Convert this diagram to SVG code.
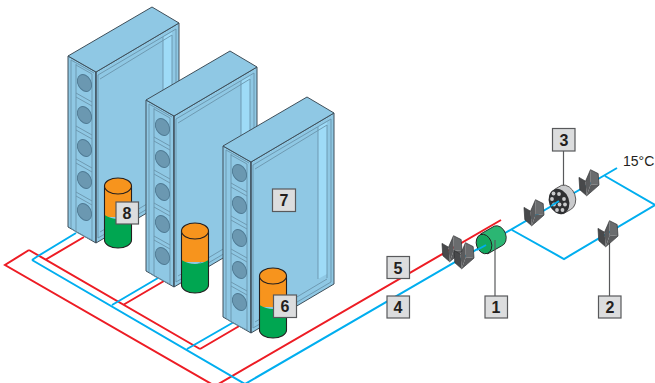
<svg xmlns="http://www.w3.org/2000/svg" xmlns:xlink="http://www.w3.org/1999/xlink" width="655" height="383" viewBox="0 0 655 383">
<style>
.red{fill:none;stroke:#ed1c24;stroke-width:2}
.blue{fill:none;stroke:#00aeef;stroke-width:2}
.leader{fill:none;stroke:#58595b;stroke-width:1.2}
.box{fill:#dcddde;stroke:#58595b;stroke-width:1.2}
.num{font:bold 16px "Liberation Sans",Arial,sans-serif;fill:#231f20;text-anchor:middle}
.r{fill:#8fc8e4;stroke:#3f4f5a;stroke-width:1;stroke-linejoin:round}
.rl{fill:none;stroke:#6a94ab;stroke-width:.9}
.rd{fill:none;stroke:#3f4f5a;stroke-width:1}
.hole{fill:#6b98b1;stroke:#4f7a93;stroke-width:.9}
.cs{stroke:#231f20;stroke-width:1.1}
.vd{fill:#48494b}.vm{fill:#5a5b5d}.vl{fill:#6a6c6e}.vo{fill:none;stroke:#2f3032;stroke-width:.6;stroke-linejoin:round}
</style>
<defs>
<g id="unit">
<path class="r" d="M0 0L28 16V187L0 171Z"/>
<path class="r" d="M28 16L111 -33V138L28 187Z"/>
<path class="r" d="M0 0L84 -49L111 -33L28 16Z"/>
<path d="M95 -19L104 -24V128L95 133Z" fill="#9edbf7"/>
<path class="rl" d="M30 19L108 -27V136L30 182ZM32 23L104 -21M32 176L104 133M95 -19V133M104 -21V132"/>
<path class="rl" d="M3 4V172M8 8V176L24 184V18L8 9M3 4L26 17M8 176L3 172"/>
<path class="rl" d="M8 37L24 46M8 41L24 50M8 70L24 79M8 74L24 83M8 103L24 112M8 107L24 116M8 136L24 145M8 140L24 149"/>
<g class="hole">
<ellipse cx="16.500" cy="27" rx="6.500" ry="9" transform="rotate(-28 16.500 27)"/>
<ellipse cx="16.500" cy="59" rx="6.500" ry="9" transform="rotate(-28 16.500 59)"/>
<ellipse cx="16.500" cy="92" rx="6.500" ry="9" transform="rotate(-28 16.500 92)"/>
<ellipse cx="16.500" cy="124" rx="6.500" ry="9" transform="rotate(-28 16.500 124)"/>
<ellipse cx="16.500" cy="156" rx="6.500" ry="9" transform="rotate(-28 16.500 156)"/>
</g>
<path class="rd" d="M28 16V187"/>
</g>
<g id="tank">
<path d="M-13.500 0V31H13.500V0Z" fill="#f7941d"/>
<path d="M-13.500 29Q0 37 13.500 29V54A13.500 8 0 0 1 -13.500 54Z" fill="#00a651"/>
<path class="cs" fill="none" d="M-13.500 0V54A13.500 8 0 0 0 13.500 54V0"/>
<ellipse class="cs" cx="0" cy="0" rx="13.500" ry="8" fill="#f7941d"/>
</g>
<g id="valve" transform="scale(1.15)">
<path class="vl" d="M1.300 -10.700L8 -7.300L8.700 2.700L1.500 2Z"/>
<path class="vm" d="M1.500 2L8.700 2.700L3 7.700L-2 12Z"/>
<path class="vm" d="M-3 -.7L1.300 -10.700L1.500 2L-2 12Z"/>
<path class="vd" d="M-8.700 -4L-3 -.7L-2 12L-8 6.700Z"/>
<path class="vo" d="M-8.700 -4L-3 -.7L1.300 -10.700L8 -7.300L8.700 2.700L3 7.700L-2 12L-8 6.700Z"/>
</g>
</defs>
<g id="connectors">
<path class="red" d="M45 260L84 237M123 305L164 281M200 349L241 325M29 250L200 349M29 250L5 265L215 386L501 220"/>
<path class="blue" d="M38 256L76 233M112 305L158 278M187 349L234 322M32 260L245 384L617 168M38 256L32 260M512 230L564 259L655 205L605 176"/>
<path class="leader" d="M563.500 151V188M609.500 240V296"/>
</g>
<g id="rack-1"><use href="#unit" xlink:href="#unit" x="68" y="56"/></g>
<g id="tank-1"><use href="#tank" xlink:href="#tank" x="118" y="186"/></g>
<g id="rack-2"><use href="#unit" xlink:href="#unit" x="146" y="100"/></g>
<g id="tank-2"><use href="#tank" xlink:href="#tank" x="195" y="231"/></g>
<g id="rack-3"><use href="#unit" xlink:href="#unit" x="223" y="146"/></g>
<g id="tank-3"><use href="#tank" xlink:href="#tank" x="273" y="276"/></g>
<g id="valve-1"><use href="#valve" xlink:href="#valve" x="452" y="248"/></g>
<g id="valve-2"><use href="#valve" xlink:href="#valve" x="464" y="255"/></g>
<g id="valve-3"><use href="#valve" xlink:href="#valve" x="534" y="212"/></g>
<g id="valve-4"><use href="#valve" xlink:href="#valve" x="589" y="182"/></g>
<g id="valve-5"><use href="#valve" xlink:href="#valve" x="608" y="233"/></g>
<g id="strainer">
<path d="M480.400 234.100L494.400 226.100A7.500 10 -20 0 1 501.600 245.900L487.600 253.900Z" fill="#2bb673" stroke="#231f20" stroke-width=".9"/>
<ellipse cx="484" cy="244" rx="7.500" ry="10" transform="rotate(-20 484 244)" fill="#13a85f" stroke="#231f20" stroke-width=".9"/>
<path class="blue" d="M477 250L486 245"/>
<path class="leader" d="M495 240V296"/>
</g>
<g id="filter">
<path d="M554.600 189.300L561.600 185.300A10 13 -20 0 1 570.400 209.700L563.400 213.700Z" fill="#c9cacc" stroke="#231f20" stroke-width=".7"/>
<ellipse cx="559" cy="201.500" rx="10" ry="13" transform="rotate(-20 559 201.500)" fill="#2f3032"/>
<g fill="#c9cacc"><circle cx="553.500" cy="193.500" r="1.900"/><circle cx="559" cy="194" r="1.900"/><circle cx="552" cy="199" r="1.900"/><circle cx="564" cy="199" r="1.900"/><circle cx="554" cy="204.500" r="1.900"/><circle cx="559.500" cy="204.500" r="1.900"/><circle cx="565" cy="204.500" r="1.900"/><circle cx="557" cy="210" r="1.900"/><circle cx="562.500" cy="210" r="1.900"/></g>
<path class="blue" d="M551 206L559 201"/>
</g>
<text x="623" y="166" font-family="Liberation Sans, Arial, sans-serif" font-size="14" fill="#231f20">15°C</text>
<g id="label-1"><rect class="box" x="485" y="296" width="22.500" height="22"/><text class="num" x="496" y="313">1</text></g>
<g id="label-2"><rect class="box" x="598.500" y="296" width="22.500" height="22"/><text class="num" x="610" y="313">2</text></g>
<g id="label-3"><rect class="box" x="552.500" y="128.500" width="22.500" height="22.500"/><text class="num" x="564" y="145.500">3</text></g>
<g id="label-4"><rect class="box" x="387" y="296" width="22.500" height="22"/><text class="num" x="398" y="313">4</text></g>
<g id="label-5"><rect class="box" x="387" y="256.500" width="22.500" height="22"/><text class="num" x="398" y="273.500">5</text></g>
<g id="label-6"><rect class="box" x="273.500" y="295" width="23" height="22.500"/><text class="num" x="285" y="312">6</text></g>
<g id="label-7"><rect class="box" x="272.500" y="189" width="23" height="22.500"/><text class="num" x="284" y="206">7</text></g>
<g id="label-8"><rect class="box" x="116" y="202" width="22.500" height="22"/><text class="num" x="127" y="219">8</text></g>
</svg>
